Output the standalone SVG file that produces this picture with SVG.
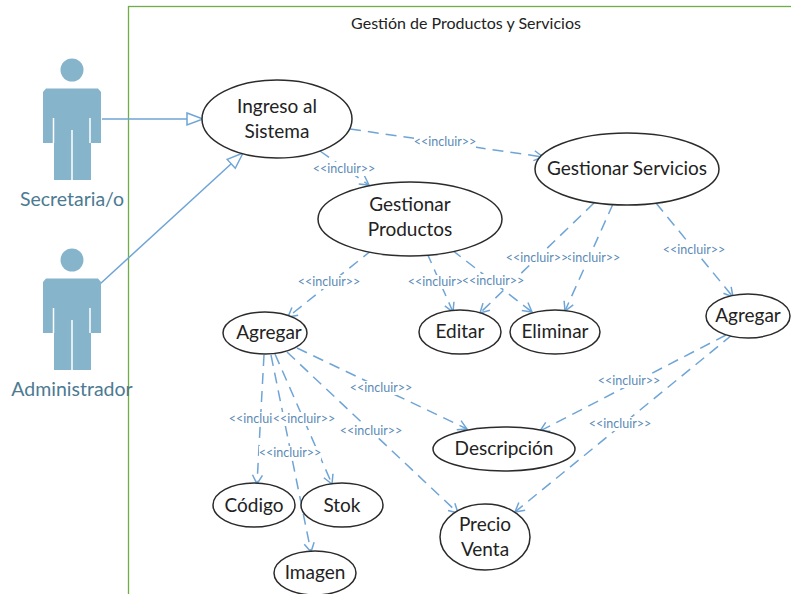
<svg xmlns="http://www.w3.org/2000/svg" width="791" height="594" viewBox="0 0 791 594">
<style>
text{font-family:"Lato","Open Sans","Liberation Sans",sans-serif;text-anchor:middle}
.uc{fill:#fff;stroke:#2b2b2b;stroke-width:1.5}
.ut{font-size:19px;fill:#222}
.dep{fill:none;stroke:#6fa5d6;stroke-width:1.5;stroke-dasharray:11 7;marker-end:url(#open)}
.gen{fill:none;stroke:#6fa5d6;stroke-width:1.5;marker-end:url(#tri)}
.lb{fill:#fff}
.lt{font-size:12.500px;fill:#5b8ab5}
.body{fill:#85b4cb}
.gap{stroke:#fff;stroke-width:1.5;fill:none}
.an{font-size:19.500px;fill:#4c7a92}
</style>
<defs>
<marker id="open" markerUnits="userSpaceOnUse" markerWidth="14" markerHeight="14" refX="11" refY="6" orient="auto"><path d="M2 1L11 6L2 11" fill="none" stroke="#6fa5d6" stroke-width="1.5"/></marker>
<marker id="tri" markerUnits="userSpaceOnUse" markerWidth="20" markerHeight="16" refX="17" refY="8" orient="auto"><path d="M1 2L17 8L1 14Z" fill="#fff" stroke="#6fa5d6" stroke-width="1.5"/></marker>
<g id="person"><circle cx="72" cy="70" r="11.500" class="body"/><path class="body" d="M46 88.500H98L101 92V143H91V180H54V143H43V92Z"/><path class="gap" d="M53.500 118V143M90 118V143M72 130V180"/></g>
</defs>
<rect id="frame" x="128.500" y="6.500" width="700" height="640" fill="none" stroke="#70ad47" stroke-width="1.300"/>
<text x="466" y="29" font-size="16" fill="#222">Gestión de Productos y Servicios</text>
<g id="connectors">
<path class="gen" d="M102 119H203"/>
<path class="gen" d="M100 284L243 153"/>
<path class="dep" d="M350 129L543 157"/>
<path class="dep" d="M320 151L369 185"/>
<path class="dep" d="M372 250L288 317"/>
<path class="dep" d="M427 253L453 312"/>
<path class="dep" d="M452 250L532 312"/>
<path class="dep" d="M594 203L480 313"/>
<path class="dep" d="M613 204L565 311"/>
<path class="dep" d="M656 203L733 297"/>
<path class="dep" d="M264 355L257 484"/>
<path class="dep" d="M271 355L311 552"/>
<path class="dep" d="M275 354L332 484"/>
<path class="dep" d="M287 352L458 513"/>
<path class="dep" d="M297 348L467 429"/>
<path class="dep" d="M726 335L540 431"/>
<path class="dep" d="M732 335L515 512"/>
<g id="labels">
<rect class="lb" x="313" y="162" width="62" height="14"/><text class="lt" x="344" y="173">&lt;&lt;incluir&gt;&gt;</text>
<rect class="lb" x="414" y="135" width="62" height="14"/><text class="lt" x="445" y="146">&lt;&lt;incluir&gt;&gt;</text>
<rect class="lb" x="298" y="275" width="62" height="14"/><text class="lt" x="329" y="286">&lt;&lt;incluir&gt;&gt;</text>
<rect class="lb" x="558" y="251" width="62" height="14"/><text class="lt" x="589" y="262">&lt;&lt;incluir&gt;&gt;</text>
<rect class="lb" x="506" y="251" width="62" height="14"/><text class="lt" x="537" y="262">&lt;&lt;incluir&gt;&gt;</text>
<rect class="lb" x="663" y="243" width="62" height="14"/><text class="lt" x="694" y="254">&lt;&lt;incluir&gt;&gt;</text>
<rect class="lb" x="408" y="275" width="62" height="14"/><text class="lt" x="439" y="286">&lt;&lt;incluir&gt;&gt;</text>
<rect class="lb" x="462" y="274" width="62" height="14"/><text class="lt" x="493" y="285">&lt;&lt;incluir&gt;&gt;</text>
<rect class="lb" x="350" y="381" width="62" height="14"/><text class="lt" x="381" y="392">&lt;&lt;incluir&gt;&gt;</text>
<rect class="lb" x="340" y="424" width="62" height="14"/><text class="lt" x="371" y="435">&lt;&lt;incluir&gt;&gt;</text>
<rect class="lb" x="229" y="412" width="62" height="14"/><text class="lt" x="260" y="423">&lt;&lt;incluir&gt;&gt;</text>
<rect class="lb" x="273" y="412" width="62" height="14"/><text class="lt" x="304" y="423">&lt;&lt;incluir&gt;&gt;</text>
<rect class="lb" x="259" y="446" width="62" height="14"/><text class="lt" x="290" y="457">&lt;&lt;incluir&gt;&gt;</text>
<rect class="lb" x="598" y="374" width="62" height="14"/><text class="lt" x="629" y="385">&lt;&lt;incluir&gt;&gt;</text>
<rect class="lb" x="589" y="417" width="62" height="14"/><text class="lt" x="620" y="428">&lt;&lt;incluir&gt;&gt;</text>
</g>
</g>
<g id="actor-secretaria"><use href="#person"/><text class="an" x="72" y="206">Secretaria/o</text></g>
<g id="actor-administrador"><use href="#person" y="190"/><text class="an" x="72" y="396">Administrador</text></g>
<g id="uc-ingreso"><ellipse class="uc" cx="277" cy="119" rx="75" ry="39"/><text class="ut" x="277" y="113">Ingreso al</text><text class="ut" x="277" y="138">Sistema</text></g>
<g id="uc-servicios"><ellipse class="uc" cx="627" cy="169" rx="92" ry="36"/><text class="ut" x="627" y="175">Gestionar Servicios</text></g>
<g id="uc-productos"><ellipse class="uc" cx="410" cy="219" rx="92" ry="37"/><text class="ut" x="410" y="211">Gestionar</text><text class="ut" x="410" y="236">Productos</text></g>
<g id="uc-agregar1"><ellipse class="uc" cx="265" cy="333" rx="42" ry="21"/><text class="ut" x="269" y="339">Agregar</text></g>
<g id="uc-editar"><ellipse class="uc" cx="460" cy="332" rx="41" ry="22"/><text class="ut" x="460" y="338">Editar</text></g>
<g id="uc-eliminar"><ellipse class="uc" cx="555" cy="332" rx="45" ry="22"/><text class="ut" x="555" y="338">Eliminar</text></g>
<g id="uc-agregar2"><ellipse class="uc" cx="748" cy="316" rx="42" ry="22"/><text class="ut" x="748" y="322">Agregar</text></g>
<g id="uc-descripcion"><ellipse class="uc" cx="504" cy="449" rx="71" ry="22"/><text class="ut" x="504" y="455">Descripción</text></g>
<g id="uc-codigo"><ellipse class="uc" cx="254" cy="505" rx="41" ry="22"/><text class="ut" x="254" y="512">Código</text></g>
<g id="uc-stok"><ellipse class="uc" cx="342" cy="505" rx="41" ry="22"/><text class="ut" x="342" y="512">Stok</text></g>
<g id="uc-imagen"><ellipse class="uc" cx="315" cy="573" rx="41" ry="22"/><text class="ut" x="315" y="579">Imagen</text></g>
<g id="uc-precio"><ellipse class="uc" cx="485" cy="537" rx="45" ry="33"/><text class="ut" x="485" y="531">Precio</text><text class="ut" x="485" y="556">Venta</text></g>
</svg>
